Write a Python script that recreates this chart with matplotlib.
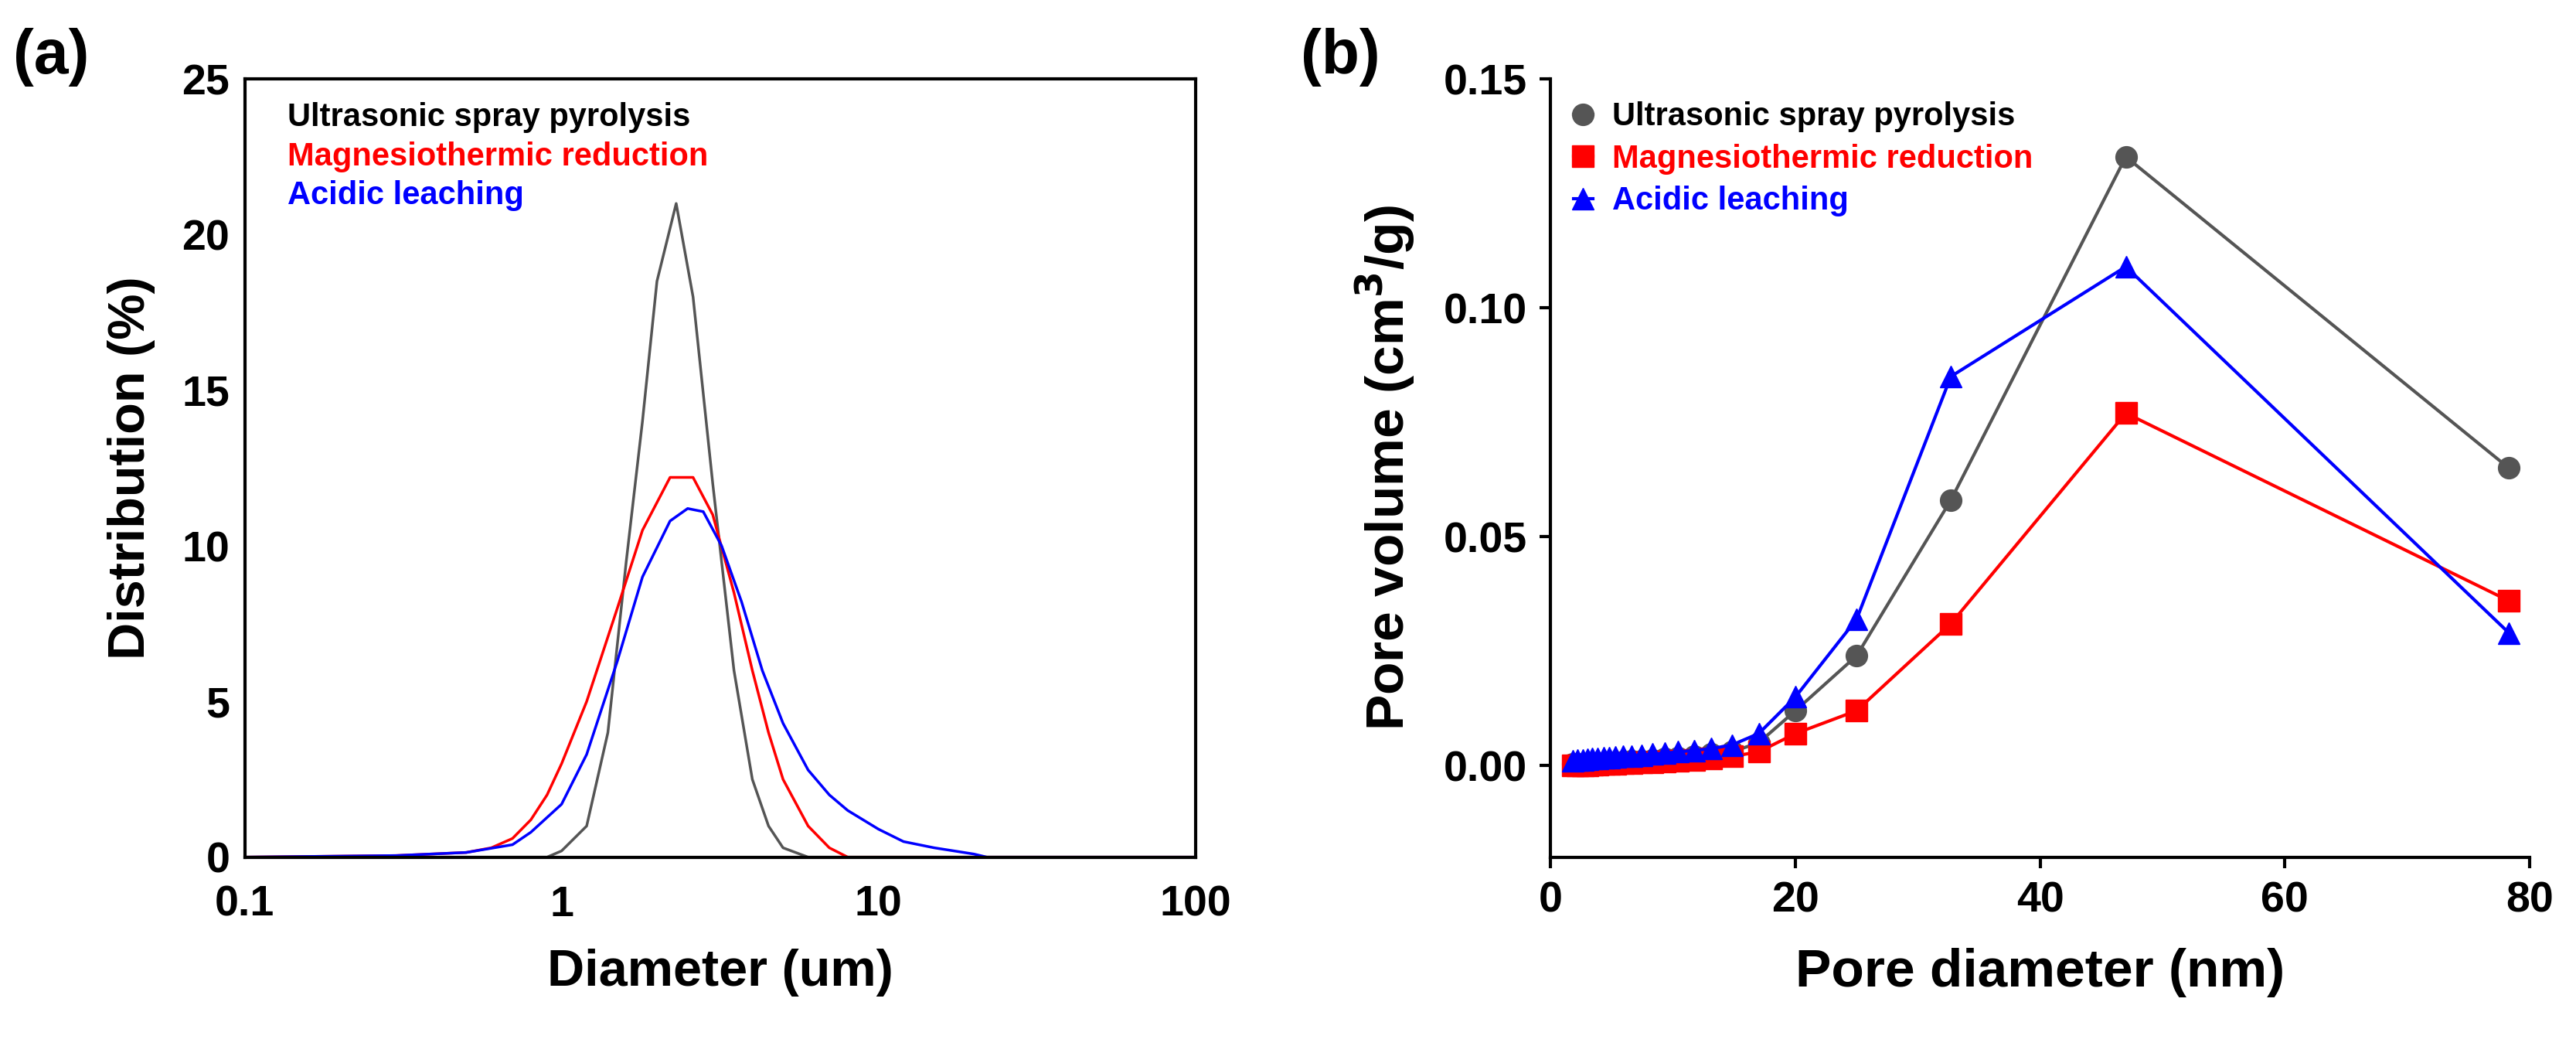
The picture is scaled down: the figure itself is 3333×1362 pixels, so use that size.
import matplotlib.pyplot as plt

plt.rcParams['font.family'] = ['Liberation Sans', 'DejaVu Sans']
plt.rcParams['font.weight'] = 'bold'

# (a) particle size distribution
d_usp = [0.1, 0.9, 1.0, 1.2, 1.4, 1.6, 1.8, 2.0, 2.3, 2.6, 3.0, 3.5, 4.0, 4.5, 5.0, 6.0, 100]
v_usp = [0, 0, 0.2, 1, 4, 9.5, 14, 18.5, 21, 18, 12, 6, 2.5, 1, 0.3, 0, 0]
d_mg = [0.1, 0.3, 0.5, 0.6, 0.7, 0.8, 0.9, 1.0, 1.2, 1.5, 1.8, 2.2, 2.6, 3.0, 3.5, 4.0, 4.5, 5.0, 6.0, 7.0, 8.0, 100]
v_mg = [0, 0.05, 0.15, 0.3, 0.6, 1.2, 2, 3, 5, 8, 10.5, 12.2, 12.2, 11, 8.5, 6, 4, 2.5, 1, 0.3, 0, 0]
d_al = [0.1, 0.3, 0.5, 0.7, 0.8, 1.0, 1.2, 1.5, 1.8, 2.2, 2.5, 2.8, 3.2, 3.7, 4.3, 5, 6, 7, 8, 10, 12, 15, 20, 22, 100]
v_al = [0, 0.05, 0.15, 0.4, 0.8, 1.7, 3.3, 6.3, 9, 10.8, 11.2, 11.1, 10, 8.2, 6, 4.3, 2.8, 2, 1.5, 0.9, 0.5, 0.3, 0.1, 0, 0]

# (b) pore volume
pd = [1.8, 2.2, 2.6, 3.0, 3.4, 3.8, 4.3, 4.8, 5.3, 5.9, 6.6, 7.4, 8.3, 9.3, 10.4, 11.7, 13.1, 14.8, 17, 20, 25, 32.7, 47, 78.3]
pv_usp = [0.0003, 0.0003, 0.0004, 0.0004, 0.0005, 0.0005, 0.0006, 0.0007, 0.0008, 0.0009, 0.001, 0.0011, 0.0013, 0.0015, 0.0017, 0.002, 0.0025, 0.003, 0.005, 0.012, 0.024, 0.058, 0.133, 0.065]
pv_mg = [0.0, 0.0, 0.0001, 0.0001, 0.0002, 0.0002, 0.0003, 0.0003, 0.0004, 0.0005, 0.0006, 0.0007, 0.0008, 0.0009, 0.001, 0.0012, 0.0015, 0.002, 0.003, 0.007, 0.012, 0.031, 0.077, 0.036]
pv_al = [0.001, 0.0012, 0.0013, 0.0014, 0.0015, 0.0016, 0.0017, 0.0018, 0.0019, 0.002, 0.0021, 0.0023, 0.0025, 0.0027, 0.003, 0.0033, 0.0037, 0.0045, 0.007, 0.015, 0.032, 0.085, 0.109, 0.029]

labels = ['Ultrasonic spray pyrolysis', 'Magnesiothermic reduction', 'Acidic leaching']
colors = ['#555555', 'red', 'blue']

fig = plt.figure(figsize=(33.33, 13.62), dpi=100)
ax1 = fig.add_axes([0.095, 0.186, 0.369, 0.739])
ax2 = fig.add_axes([0.602, 0.186, 0.380, 0.739])

# ---- panel a
for d, v, c in zip([d_usp, d_mg, d_al], [v_usp, v_mg, v_al], colors):
    ax1.plot(d, v, color=c, lw=2.5)
ax1.set_xscale('log')
ax1.set_xlim(0.1, 100)
ax1.set_ylim(0, 25)
ax1.set_xticks([0.1, 1, 10, 100])
ax1.set_xticklabels(['0.1', '1', '10', '100'])
ax1.minorticks_off()
ax1.tick_params(labelsize=40, length=0, pad=14)
ax1.tick_params(axis='x', pad=26)
ax1.set_xlabel('Diameter (um)', fontsize=48, fontweight='bold', labelpad=22)
ax1.set_ylabel('Distribution (%)', fontsize=48, fontweight='bold', labelpad=25)
for s in ax1.spines.values():
    s.set_linewidth(3)
for i, (t, c) in enumerate(zip(labels, colors)):
    ax1.text(0.045, 0.95 - i * 0.05, t, color='black' if i == 0 else c, transform=ax1.transAxes,
             fontsize=30, fontweight='bold', va='center')

# ---- panel b
for y, c, m, l in zip([pv_usp, pv_mg, pv_al], colors, ['o', 's', '^'], labels):
    ax2.plot(pd, y, color=c, marker=m, ms=20, lw=3, label=l)
ax2.set_xlim(0, 80)
ax2.set_ylim(-0.02, 0.15)
ax2.set_xticks([0, 20, 40, 60, 80])
ax2.set_yticks([0.0, 0.05, 0.10, 0.15])
ax2.set_yticklabels(['0.00', '0.05', '0.10', '0.15'])
ax2.spines['top'].set_visible(False)
ax2.spines['right'].set_visible(False)
for s in ['left', 'bottom']:
    ax2.spines[s].set_linewidth(3)
ax2.tick_params(labelsize=40, width=3, length=10, pad=12)
ax2.set_xlabel('Pore diameter (nm)', fontsize=50, fontweight='bold', labelpad=25)
ax2.set_ylabel('Pore volume (cm$^\\mathbf{3}$/g)', fontsize=50, fontweight='bold', labelpad=25)
leg = ax2.legend(loc='upper left', frameon=False, fontsize=30, handlelength=0.6,
                 handletextpad=0.6, borderaxespad=0.3, labelspacing=0.35)
for txt, c in zip(leg.get_texts(), ['black', 'red', 'blue']):
    txt.set_color(c)

fig.text(0.005, 0.93, '(a)', fontsize=58, fontweight='bold')
fig.text(0.505, 0.93, '(b)', fontsize=58, fontweight='bold')

fig.savefig('out.png', dpi=100)
